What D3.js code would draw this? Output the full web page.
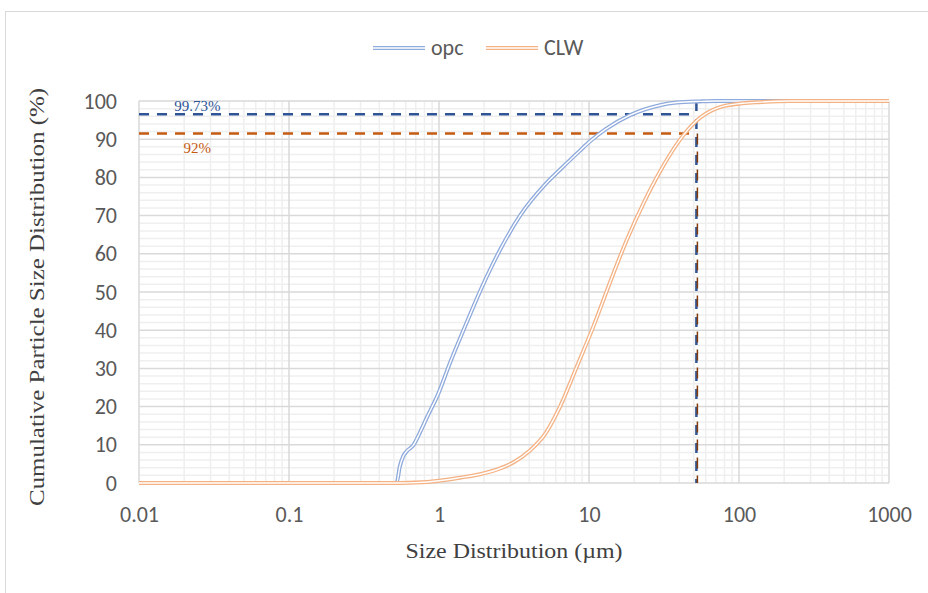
<!DOCTYPE html>
<html>
<head>
<meta charset="utf-8">
<script src="https://cdn.jsdelivr.net/npm/d3@7"></script>
<style>
  body { margin: 0; background: #fff; }
  svg { display: block; }
</style>
</head>
<body>
<div id="chart"></div>
<script>
  // particle sizes (um) and cumulative %
  var opcSize = [0.01, 0.1, 0.5, 0.522, 0.548, 0.576, 0.606, 0.675, 0.75, 0.834, 0.99, 1.18, 1.46, 1.97, 2.55, 3.47, 5.2, 6.4, 8.7, 10.2, 13, 18.8, 29.7, 38.4, 55, 70, 1000];
  var opcValue = [0, 0, 0, 0.1, 4.3, 6.9, 8.2, 9.9, 13.4, 17.3, 23.4, 31.3, 40.1, 52, 61, 70, 78.5, 82, 87, 89.5, 92.7, 96.3, 98.9, 99.6, 99.9, 100, 100];

  var clwSize = [0.01, 0.1, 0.5, 0.55, 0.7, 1.0, 1.38, 1.88, 2.55, 3.17, 4.04, 5.13, 6.41, 8.3, 10.7, 13.8, 17.8, 23.6, 29.7, 42.5, 55, 74.7, 106, 138, 218, 1000];
  var clwValue = [0, 0, 0, 0, 0.1, 0.6, 1.4, 2.3, 3.8, 5.5, 8.5, 13, 20, 30.5, 41, 52.5, 63.5, 74, 81.5, 91, 95.6, 98.4, 99.4, 99.7, 100, 100];

  var xTicks = [0.01, 0.1, 1, 10, 100, 1000];
  var yTicks = [0, 10, 20, 30, 40, 50, 60, 70, 80, 90, 100];
  var seriesNames = ["opc", "CLW"];

  // reference lines and their labels
  var refSize = 52;
  var refOpc = 96.5, refClw = 91.5;
  var refLabels = ["99.73%", "92%"];

  var W = 928, H = 593;
  var margin = {top: 101, right: 39, bottom: 110, left: 139},
      width = W - margin.left - margin.right,
      height = H - margin.top - margin.bottom;

  var svg = d3.select("#chart").append("svg")
      .attr("width", W)
      .attr("height", H);

  // outer chart border
  svg.append("rect")
    .attr("x", 5.5).attr("y", 11.5)
    .attr("width", W).attr("height", H)
    .attr("fill", "none")
    .attr("stroke", "#d9d9d9");

  var g = svg.append("g")
    .attr("transform", "translate(" + margin.left + "," + margin.top + ")");

  var x = d3.scaleLog().domain([0.01, 1000]).range([0, width]);
  var y = d3.scaleLinear().domain([0, 100]).range([height, 0]);

  // minor grid
  var minorX = [];
  for (var e = -2; e < 3; e++) {
    for (var m = 2; m < 10; m++) minorX.push(m * Math.pow(10, e));
  }
  var minorY = d3.range(0, 101, 2).filter(function(d) { return d % 10 != 0; });

  g.selectAll(".minx").data(minorX).enter().append("line")
    .attr("x1", function(d) { return x(d); }).attr("x2", function(d) { return x(d); })
    .attr("y1", 0).attr("y2", height)
    .attr("stroke", "#efefef").attr("stroke-width", 1.5);
  g.selectAll(".miny").data(minorY).enter().append("line")
    .attr("y1", function(d) { return y(d); }).attr("y2", function(d) { return y(d); })
    .attr("x1", 0).attr("x2", width)
    .attr("stroke", "#efefef").attr("stroke-width", 1.5);

  // major grid
  g.selectAll(".majx").data(xTicks).enter().append("line")
    .attr("x1", function(d) { return x(d); }).attr("x2", function(d) { return x(d); })
    .attr("y1", 0).attr("y2", height)
    .attr("stroke", "#d9d9d9").attr("stroke-width", 1.5);
  g.selectAll(".majy").data(yTicks).enter().append("line")
    .attr("y1", function(d) { return y(d); }).attr("y2", function(d) { return y(d); })
    .attr("x1", 0).attr("x2", width)
    .attr("stroke", "#d9d9d9").attr("stroke-width", 1.5);

  // axes (labels only)
  var xAxis = g.append("g")
    .attr("transform", "translate(0," + height + ")")
    .call(d3.axisBottom(x).tickValues(xTicks).tickFormat(function(d) { return String(d); }).tickSize(0).tickPadding(23));
  var yAxis = g.append("g")
    .call(d3.axisLeft(y).tickValues(yTicks).tickSize(0).tickPadding(22));
  [xAxis, yAxis].forEach(function(a) {
    a.select(".domain").remove();
    a.selectAll("text")
      .attr("fill", "#595959")
      .style("font-family", "Carlito, 'Open Sans', sans-serif")
      .style("font-size", "22px");
  });

  // reference dashed lines
  var dash = "10,8";
  g.append("path")
    .attr("d", d3.line()([[x(0.01), y(refOpc)], [x(refSize), y(refOpc)]]))
    .attr("fill", "none").attr("stroke", "#2f5597").attr("stroke-width", 2.5).attr("stroke-dasharray", dash);
  g.append("path")
    .attr("d", d3.line()([[x(0.01), y(refClw)], [x(refSize), y(refClw)]]))
    .attr("fill", "none").attr("stroke", "#c55a11").attr("stroke-width", 2.5).attr("stroke-dasharray", dash);
  g.append("path")
    .attr("d", d3.line()([[x(refSize), y(100)], [x(refSize), y(0)]]))
    .attr("fill", "none").attr("stroke", "#2f5597").attr("stroke-width", 2.5).attr("stroke-dasharray", dash);
  g.append("path")
    .attr("d", d3.line()([[x(refSize) + 1, y(refClw)], [x(refSize) + 1, y(0)]]))
    .attr("fill", "none").attr("stroke", "#843c0c").attr("stroke-width", 1.5).attr("stroke-dasharray", "11,7");

  // curves drawn as Excel-like double lines
  var line = d3.line()
    .x(function(d) { return x(d[0]); })
    .y(function(d) { return y(d[1]); })
    .curve(d3.curveMonotoneX);

  var series = [
    {name: seriesNames[0], color: "#8faadc", pts: d3.zip(opcSize, opcValue)},
    {name: seriesNames[1], color: "#f4b183", pts: d3.zip(clwSize, clwValue)}
  ];

  series.forEach(function(s) {
    g.append("path").attr("d", line(s.pts))
      .attr("fill", "none").attr("stroke", s.color).attr("stroke-width", 4);
    g.append("path").attr("d", line(s.pts))
      .attr("fill", "none").attr("stroke", "#fff").attr("stroke-width", 1.4);
  });

  // reference labels
  g.append("text")
    .attr("x", x(0.0245)).attr("y", y(refOpc) - 3)
    .attr("text-anchor", "middle")
    .attr("fill", "#2f5597")
    .style("font-family", "'Liberation Serif', 'Times New Roman', serif")
    .style("font-size", "15px")
    .text(refLabels[0]);
  g.append("text")
    .attr("x", x(0.0245)).attr("y", y(refClw) + 20)
    .attr("text-anchor", "middle")
    .attr("fill", "#c55a11")
    .style("font-family", "'Liberation Serif', 'Times New Roman', serif")
    .style("font-size", "15px")
    .text(refLabels[1]);

  // legend
  var legend = svg.append("g").attr("transform", "translate(373,48)");
  var lx = [0, 113];
  series.forEach(function(s, i) {
    var lg = legend.append("g").attr("transform", "translate(" + lx[i] + ",0)");
    lg.append("line").attr("x1", 0).attr("x2", 52).attr("y1", 0).attr("y2", 0)
      .attr("stroke", s.color).attr("stroke-width", 4);
    lg.append("line").attr("x1", 0).attr("x2", 52).attr("y1", 0).attr("y2", 0)
      .attr("stroke", "#fff").attr("stroke-width", 1.4);
    lg.append("text").attr("x", 58).attr("y", 7)
      .attr("fill", "#595959")
      .style("font-family", "Carlito, 'Open Sans', sans-serif")
      .style("font-size", "22px")
      .text(s.name);
  });

  // axis titles
  svg.append("text")
    .attr("x", margin.left + width / 2).attr("y", 558)
    .attr("text-anchor", "middle")
    .attr("fill", "#404040")
    .attr("textLength", 217).attr("lengthAdjust", "spacingAndGlyphs")
    .style("font-family", "'Liberation Serif', 'Times New Roman', serif")
    .style("font-size", "20px")
    .text("Size Distribution (\u00b5m)");

  svg.append("text")
    .attr("transform", "translate(44," + (margin.top + height / 2 + 5) + ") rotate(-90)")
    .attr("text-anchor", "middle")
    .attr("fill", "#404040")
    .attr("textLength", 418).attr("lengthAdjust", "spacingAndGlyphs")
    .style("font-family", "'Liberation Serif', 'Times New Roman', serif")
    .style("font-size", "20px")
    .text("Cumulative Particle Size Distribution (%)");
</script>
</body>
</html>
